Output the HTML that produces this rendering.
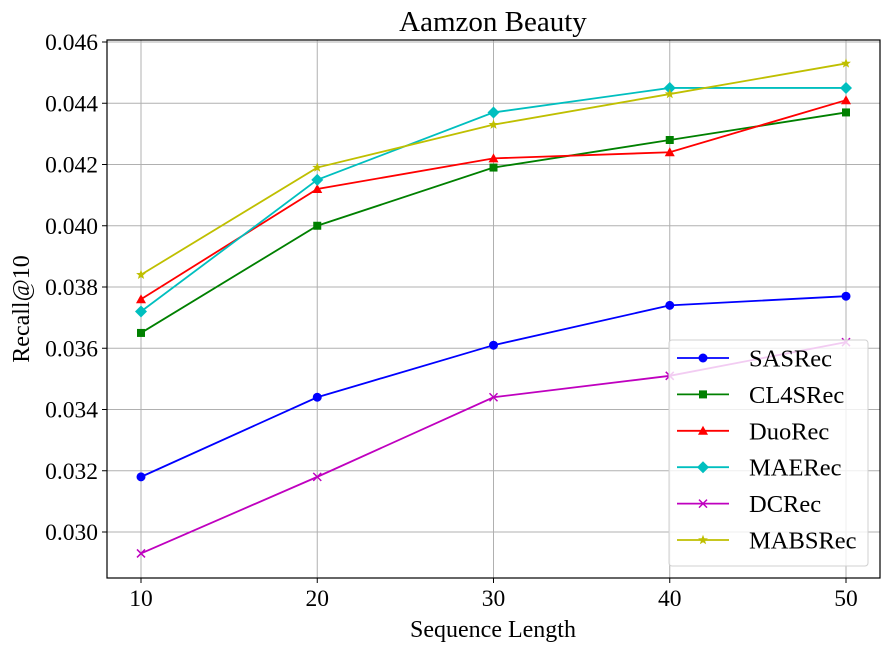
<!DOCTYPE html>
<html><head><meta charset="utf-8"><style>
body{margin:0;background:#fff}
svg text{font-family:"Liberation Serif",serif;fill:#000}
</style></head><body>
<svg id="chart" width="890" height="651" xmlns="http://www.w3.org/2000/svg">
<g id="grid"></g>
<g id="series"></g>
<rect x="107" y="40" width="773" height="538" fill="none" stroke="#000" stroke-width="1.2"/>
<g id="ticks"></g>
<text x="493" y="31" font-size="29" text-anchor="middle">Aamzon Beauty</text>
<text x="493" y="637" font-size="24" text-anchor="middle">Sequence Length</text>
<text transform="translate(29,309) rotate(-90)" font-size="24" text-anchor="middle">Recall@10</text>
<g id="legend"></g>
</svg>
<script>
const categories=[10,20,30,40,50];
const yTicks=[0.030,0.032,0.034,0.036,0.038,0.040,0.042,0.044,0.046];
const seriesNames=["SASRec","CL4SRec","DuoRec","MAERec","DCRec","MABSRec"];
const sasrec=[0.0318,0.0344,0.0361,0.0374,0.0377];
const cl4srec=[0.0365,0.0400,0.0419,0.0428,0.0437];
const duorec=[0.0376,0.0412,0.0422,0.0424,0.0441];
const maerec=[0.0372,0.0415,0.0437,0.0445,0.0445];
const dcrec=[0.0293,0.0318,0.0344,0.0351,0.0362];
const mabsrec=[0.0384,0.0419,0.0433,0.0443,0.0453];
const allValues=[sasrec,cl4srec,duorec,maerec,dcrec,mabsrec];
const colors=["#0000ff","#008000","#ff0000","#00bfbf","#bf00bf","#bfbf00"];
const markers=["circle","square","triangle","diamond","x","star"];
const NS="http://www.w3.org/2000/svg";
const xS=v=>141+(v-10)*(846-141)/40;
const yS=v=>532-(v-0.030)*(532-42)/0.016;
function mk(t,a,p){const e=document.createElementNS(NS,t);for(const k in a)e.setAttribute(k,a[k]);p.appendChild(e);return e;}
const grid=document.getElementById('grid'),ticks=document.getElementById('ticks');
categories.forEach(c=>{
 const l=mk('line',{x1:xS(c),x2:xS(c),y1:40,y2:578,stroke:'#b0b0b0','stroke-width':1},grid);
 
 
 const t=mk('line',{x1:xS(c),x2:xS(c),y1:578,y2:583,stroke:'#000'},ticks);
 
 
 const tx=mk('text',{x:xS(c),y:606,'font-size':23.5,'text-anchor':'middle'},ticks);tx.textContent=c;
 
 
});
yTicks.forEach(v=>{
 const l=mk('line',{x1:107,x2:880,y1:yS(v),y2:yS(v),stroke:'#b0b0b0','stroke-width':1},grid);
 
 
 const t=mk('line',{x1:102,x2:107,y1:yS(v),y2:yS(v),stroke:'#000'},ticks);
 
 
 const tx=mk('text',{x:98,y:yS(v)+8,'font-size':23.5,'text-anchor':'end'},ticks);tx.textContent=v.toFixed(3);
 
 
});
function marker(type,x,y,c,p){
 let e;
 if(type==='circle')e=mk('circle',{cx:x,cy:y,r:4.5,fill:c},p);
 else if(type==='square')e=mk('rect',{x:x-4,y:y-4,width:8,height:8,fill:c},p);
 else if(type==='triangle')e=mk('polygon',{points:`${x},${y-5} ${x-5},${y+4} ${x+5},${y+4}`,fill:c},p);
 else if(type==='diamond')e=mk('polygon',{points:`${x},${y-6} ${x+6},${y} ${x},${y+6} ${x-6},${y}`,fill:c},p);
 else if(type==='x')e=mk('path',{d:`M${x-4},${y-4}L${x+4},${y+4}M${x-4},${y+4}L${x+4},${y-4}`,stroke:c,'stroke-width':1.5,fill:'none'},p);
 else{let pts=[];for(let i=0;i<10;i++){const r=i%2?2.2:5.2,a=-Math.PI/2+i*Math.PI/5;pts.push((x+r*Math.cos(a)).toFixed(1)+','+(y+r*Math.sin(a)).toFixed(1));}e=mk('polygon',{points:pts.join(' '),fill:c},p);}
 return e;
}
const sg=document.getElementById('series');
allValues.forEach((vals,i)=>{
 const g=mk('g',{},sg);
 
 
 const pl=mk('polyline',{points:vals.map((v,j)=>xS(categories[j])+','+yS(v)).join(' '),fill:'none',stroke:colors[i],'stroke-width':1.8},g);
 
 
 vals.forEach((v,j)=>{const m=marker(markers[i],xS(categories[j]),yS(v),colors[i],g);
  
  });
});
const lg=document.getElementById('legend');
const box=mk('rect',{x:669,y:340,width:199,height:226,rx:3,fill:'#fff','fill-opacity':0.8,stroke:'#d0d0d0'},lg);


seriesNames.forEach((n,i)=>{
 const y=358+i*36.4;
 const g=mk('g',{},lg);
 
 
 mk('line',{x1:677,x2:729,y1:y,y2:y,stroke:colors[i],'stroke-width':1.8},g);
 marker(markers[i],703,y,colors[i],g);
 const t=mk('text',{x:749,y:y+8.5,'font-size':24.5},g);t.textContent=n;
});
</script>
</body></html>
